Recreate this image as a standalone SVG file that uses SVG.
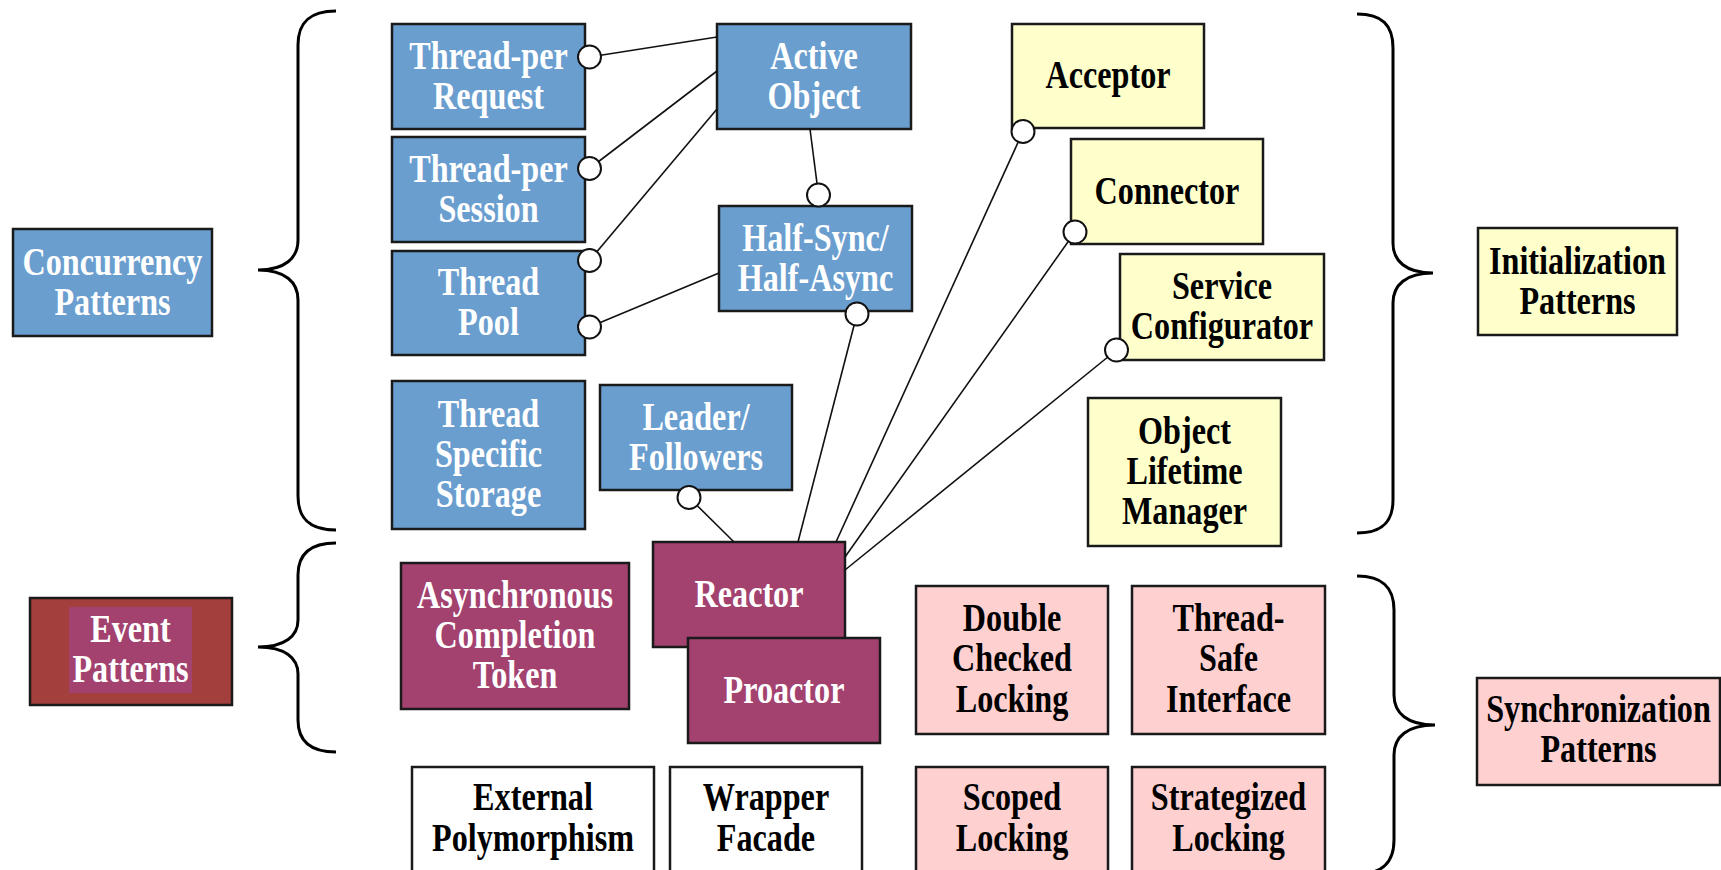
<svg xmlns="http://www.w3.org/2000/svg" width="1721" height="870" viewBox="0 0 1721 870">
<style>
.box{stroke:#1a1a1a;stroke-width:2.5}
.blue{fill:#6A9ECF}
.yel{fill:#FFFFCC}
.pink{fill:#FFD0D0}
.mag{fill:#A3426F}
.wht{fill:#FFFFFF}
.evo{fill:#A33F3C}
text{font-family:"Liberation Serif","Times New Roman",serif;font-weight:bold;font-size:39px;text-anchor:middle}
.tw{fill:#FFFFFF}
.tb{fill:#000000}
.brace{fill:none;stroke:#000;stroke-width:3}
.ln{stroke:#111;stroke-width:1.6;fill:none}
.end{fill:#FFFFFF;stroke:#111;stroke-width:2}
</style>
<rect x="0" y="0" width="1721" height="870" fill="#FFFFFF"/>

<g id="braces">
<path class="brace" d="M336,11 C310,11 298,22 298,45 L298,240 C298,258 285,270 258,270 C285,270 298,282 298,300 L298,496 C298,519 310,530 336,530"/>
<path class="brace" d="M336,543 C310,543 298,554 298,575 L298,620 C298,636 285,647 258,647 C285,647 298,658 298,674 L298,720 C298,741 310,752 336,752"/>
<path class="brace" d="M1357,14 C1382,14 1393,25 1393,48 L1393,243 C1393,261 1406,273 1433,273 C1406,273 1393,285 1393,303 L1393,500 C1393,522 1382,533 1357,533"/>
<path class="brace" d="M1357,576 C1382,576 1394,587 1394,610 L1394,695 C1394,713 1407,725 1435,725 C1407,725 1394,737 1394,755 L1394,840 C1394,863 1382,874 1357,874"/>
</g>

<g id="concurrency-patterns">
<rect class="box blue" x="13" y="229" width="199" height="107"/>
<g transform="translate(112.5,0) scale(0.825,1)"><text class="tw" x="0" y="275">Concurrency</text><text class="tw" x="0" y="315">Patterns</text></g>
</g>

<g id="thread-per-request">
<rect class="box blue" x="392" y="24" width="193" height="105"/>
<g transform="translate(488.5,0) scale(0.825,1)"><text class="tw" x="0" y="69">Thread-per</text><text class="tw" x="0" y="109">Request</text></g>
</g>

<g id="thread-per-session">
<rect class="box blue" x="392" y="137" width="193" height="105"/>
<g transform="translate(488.5,0) scale(0.825,1)"><text class="tw" x="0" y="182">Thread-per</text><text class="tw" x="0" y="222">Session</text></g>
</g>

<g id="thread-pool">
<rect class="box blue" x="392" y="251" width="193" height="104"/>
<g transform="translate(488.5,0) scale(0.825,1)"><text class="tw" x="0" y="295.5">Thread</text><text class="tw" x="0" y="335.5">Pool</text></g>
</g>

<g id="thread-specific-storage">
<rect class="box blue" x="392" y="381" width="193" height="148"/>
<g transform="translate(488.5,0) scale(0.825,1)"><text class="tw" x="0" y="427.5">Thread</text><text class="tw" x="0" y="467.5">Specific</text><text class="tw" x="0" y="507.5">Storage</text></g>
</g>

<g id="leader-followers">
<rect class="box blue" x="600" y="385" width="192" height="105"/>
<g transform="translate(696,0) scale(0.825,1)"><text class="tw" x="0" y="430">Leader/</text><text class="tw" x="0" y="470">Followers</text></g>
</g>

<g id="active-object">
<rect class="box blue" x="717" y="24" width="194" height="105"/>
<g transform="translate(814,0) scale(0.825,1)"><text class="tw" x="0" y="69">Active</text><text class="tw" x="0" y="109">Object</text></g>
</g>

<g id="half-sync-half-async">
<rect class="box blue" x="719" y="206" width="193" height="105"/>
<g transform="translate(815.5,0) scale(0.825,1)"><text class="tw" x="0" y="251">Half-Sync/</text><text class="tw" x="0" y="291">Half-Async</text></g>
</g>

<g id="acceptor">
<rect class="box yel" x="1012" y="24" width="192" height="104"/>
<g transform="translate(1108,0) scale(0.825,1)"><text class="tb" x="0" y="88.5">Acceptor</text></g>
</g>

<g id="connector">
<rect class="box yel" x="1071" y="139" width="192" height="105"/>
<g transform="translate(1167,0) scale(0.825,1)"><text class="tb" x="0" y="204">Connector</text></g>
</g>

<g id="service-configurator">
<rect class="box yel" x="1120" y="254" width="204" height="106"/>
<g transform="translate(1222,0) scale(0.825,1)"><text class="tb" x="0" y="299.5">Service</text><text class="tb" x="0" y="339.5">Configurator</text></g>
</g>

<g id="object-lifetime-manager">
<rect class="box yel" x="1088" y="398" width="193" height="148"/>
<g transform="translate(1184.5,0) scale(0.825,1)"><text class="tb" x="0" y="444.5">Object</text><text class="tb" x="0" y="484.5">Lifetime</text><text class="tb" x="0" y="524.5">Manager</text></g>
</g>

<g id="initialization-patterns">
<rect class="box yel" x="1478" y="228" width="199" height="107"/>
<g transform="translate(1577.5,0) scale(0.825,1)"><text class="tb" x="0" y="274">Initialization</text><text class="tb" x="0" y="314">Patterns</text></g>
</g>

<g id="event-patterns">
<rect class="box evo" x="30" y="598" width="202" height="107"/>
<rect class="mag" x="69" y="607" width="123" height="86"/>
<g transform="translate(130.5,0) scale(0.825,1)"><text class="tw" x="0" y="642.5">Event</text><text class="tw" x="0" y="682.5">Patterns</text></g>
</g>

<g id="asynchronous-completion-token">
<rect class="box mag" x="401" y="563" width="228" height="146"/>
<g transform="translate(515,0) scale(0.825,1)"><text class="tw" x="0" y="608.5">Asynchronous</text><text class="tw" x="0" y="648.5">Completion</text><text class="tw" x="0" y="688.5">Token</text></g>
</g>

<g id="reactor">
<rect class="box mag" x="653" y="542" width="192" height="105"/>
<g transform="translate(749,0) scale(0.825,1)"><text class="tw" x="0" y="607">Reactor</text></g>
</g>

<g id="proactor">
<rect class="box mag" x="688" y="638" width="192" height="105"/>
<g transform="translate(784,0) scale(0.825,1)"><text class="tw" x="0" y="703">Proactor</text></g>
</g>

<g id="external-polymorphism">
<rect class="box wht" x="412" y="767" width="242" height="110"/>
<g transform="translate(533,0) scale(0.825,1)"><text class="tb" x="0" y="810">External</text><text class="tb" x="0" y="851">Polymorphism</text></g>
</g>

<g id="wrapper-facade">
<rect class="box wht" x="670" y="767" width="192" height="110"/>
<g transform="translate(766,0) scale(0.825,1)"><text class="tb" x="0" y="810">Wrapper</text><text class="tb" x="0" y="851">Facade</text></g>
</g>

<g id="double-checked-locking">
<rect class="box pink" x="916" y="586" width="192" height="148"/>
<g transform="translate(1012,0) scale(0.825,1)"><text class="tb" x="0" y="631">Double</text><text class="tb" x="0" y="671.5">Checked</text><text class="tb" x="0" y="712">Locking</text></g>
</g>

<g id="thread-safe-interface">
<rect class="box pink" x="1132" y="586" width="193" height="148"/>
<g transform="translate(1228.5,0) scale(0.825,1)"><text class="tb" x="0" y="631">Thread-</text><text class="tb" x="0" y="671.5">Safe</text><text class="tb" x="0" y="712">Interface</text></g>
</g>

<g id="scoped-locking">
<rect class="box pink" x="916" y="767" width="192" height="110"/>
<g transform="translate(1012,0) scale(0.825,1)"><text class="tb" x="0" y="810">Scoped</text><text class="tb" x="0" y="851">Locking</text></g>
</g>

<g id="strategized-locking">
<rect class="box pink" x="1132" y="767" width="193" height="110"/>
<g transform="translate(1228.5,0) scale(0.825,1)"><text class="tb" x="0" y="810">Strategized</text><text class="tb" x="0" y="851">Locking</text></g>
</g>

<g id="synchronization-patterns">
<rect class="box pink" x="1477" y="678" width="243" height="107"/>
<g transform="translate(1598.5,0) scale(0.825,1)"><text class="tb" x="0" y="722.5">Synchronization</text><text class="tb" x="0" y="762.5">Patterns</text></g>
</g>

<g id="connectors">
<line class="ln" x1="589.5" y1="57" x2="717" y2="37"/>
<line class="ln" x1="589.5" y1="168.5" x2="717" y2="71"/>
<line class="ln" x1="589.5" y1="260.5" x2="717" y2="109"/>
<line class="ln" x1="589.5" y1="327" x2="719" y2="273"/>
<line class="ln" x1="810" y1="129" x2="818.5" y2="195"/>
<line class="ln" x1="857" y1="314" x2="798" y2="542"/>
<line class="ln" x1="689" y1="497.5" x2="734" y2="542"/>
<line class="ln" x1="1023" y1="131.5" x2="836" y2="542"/>
<line class="ln" x1="1075" y1="232" x2="845" y2="557"/>
<line class="ln" x1="1116.5" y1="350" x2="845" y2="570"/>
<circle class="end" cx="589.5" cy="57" r="11.5"/>
<circle class="end" cx="589.5" cy="168.5" r="11.5"/>
<circle class="end" cx="589.5" cy="260.5" r="11.5"/>
<circle class="end" cx="589.5" cy="327" r="11.5"/>
<circle class="end" cx="818.5" cy="195" r="11.5"/>
<circle class="end" cx="857" cy="314" r="11.5"/>
<circle class="end" cx="689" cy="497.5" r="11.5"/>
<circle class="end" cx="1023" cy="131.5" r="11.5"/>
<circle class="end" cx="1075" cy="232" r="11.5"/>
<circle class="end" cx="1116.5" cy="350" r="11.5"/>
</g>
</svg>
